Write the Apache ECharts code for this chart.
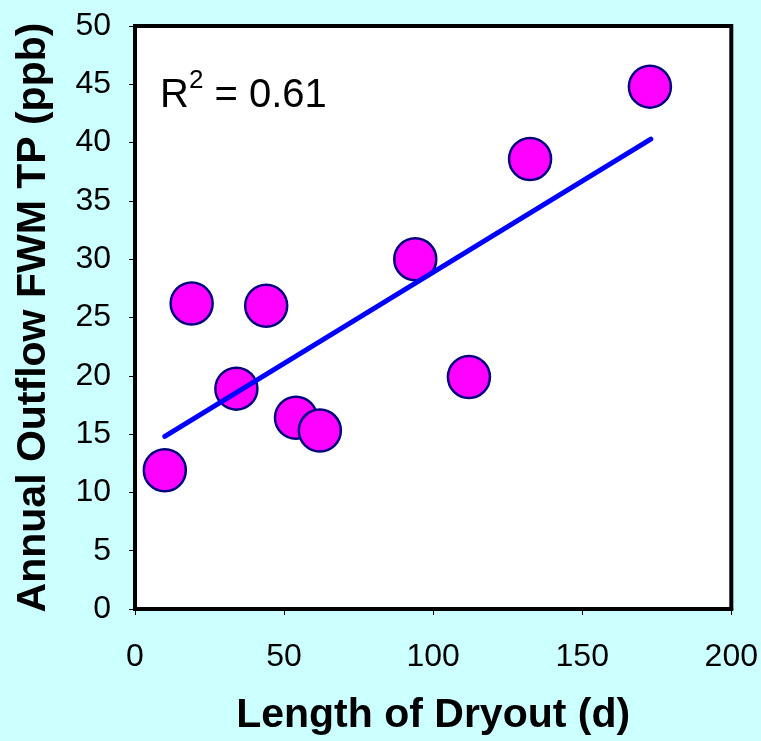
<!DOCTYPE html>
<html>
<head>
<meta charset="utf-8">
<script src="https://cdn.jsdelivr.net/npm/echarts@6/dist/echarts.min.js"></script>
<style>
html,body{margin:0;padding:0;background:#CCFFFF;}
#chart{width:761px;height:741px;}
</style>
</head>
<body>
<div id="chart"></div>
<script>
const dryoutDays = [10, 19, 44, 34, 54, 62, 94, 112, 132.5, 172.7];
const outflowTP = [11.9, 26.2, 26.0, 18.9, 16.4, 15.3, 30.0, 19.9, 38.6, 44.8];
const trendX = [10, 173];
const trendY = [14.8, 40.3];
const xTicks = [0, 50, 100, 150, 200];
const yTicks = [0, 5, 10, 15, 20, 25, 30, 35, 40, 45, 50];
const xTitle = 'Length of Dryout (d)';
const yTitle = 'Annual Outflow FWM TP (ppb)';
const r2Text = '0.61';

const font = '"Liberation Sans", Arial, sans-serif';
const chart = echarts.init(document.getElementById('chart'), null, {renderer: 'canvas'});
chart.setOption({
  backgroundColor: '#CCFFFF',
  animation: false,
  grid: {
    left: 135, right: 28, top: 26, bottom: 131,
    show: true, backgroundColor: '#FFFFFF', borderColor: '#000000', borderWidth: 4
  },
  xAxis: {
    type: 'value', min: xTicks[0], max: xTicks[xTicks.length - 1], interval: 50,
    name: xTitle, nameLocation: 'middle', nameGap: 86,
    nameTextStyle: {fontFamily: font, fontSize: 41, fontWeight: 'bold', color: '#000'},
    axisLine: {show: true, lineStyle: {color: '#000', width: 4}},
    axisTick: {show: true, length: 6, lineStyle: {color: '#000', width: 1}},
    axisLabel: {fontFamily: font, fontSize: 32, color: '#000', margin: 32},
    splitLine: {show: false}
  },
  yAxis: {
    type: 'value', min: yTicks[0], max: yTicks[yTicks.length - 1], interval: 5,
    name: yTitle, nameLocation: 'middle', nameGap: 81,
    nameTextStyle: {fontFamily: font, fontSize: 41, fontWeight: 'bold', color: '#000'},
    axisLine: {show: true, lineStyle: {color: '#000', width: 4}},
    axisTick: {show: true, length: 6, lineStyle: {color: '#000', width: 1}},
    axisLabel: {fontFamily: font, fontSize: 32, color: '#000', margin: 24},
    splitLine: {show: false}
  },
  series: [
    {
      type: 'scatter',
      data: dryoutDays.map((d, i) => [d, outflowTP[i]]),
      symbol: 'circle', symbolSize: 42,
      itemStyle: {color: '#FF00FF', borderColor: '#000080', borderWidth: 2.5, opacity: 1},
      z: 2
    },
    {
      type: 'line',
      data: trendX.map((d, i) => [d, trendY[i]]),
      showSymbol: false, symbol: 'none',
      lineStyle: {color: '#0000FF', width: 5, cap: 'round'},
      z: 3
    }
  ],
  graphic: [{
    type: 'text', left: 160, top: 68, z: 10,
    style: {
      text: '{r|R}{s|2}{r| = ' + r2Text + '}',
      rich: {
        r: {fontFamily: font, fontSize: 40, fill: '#000', verticalAlign: 'bottom', lineHeight: 48},
        s: {fontFamily: font, fontSize: 26, fill: '#000', verticalAlign: 'top', lineHeight: 48, padding: [0, 0, 22, 0]}
      }
    }
  }]
});
</script>
</body>
</html>
